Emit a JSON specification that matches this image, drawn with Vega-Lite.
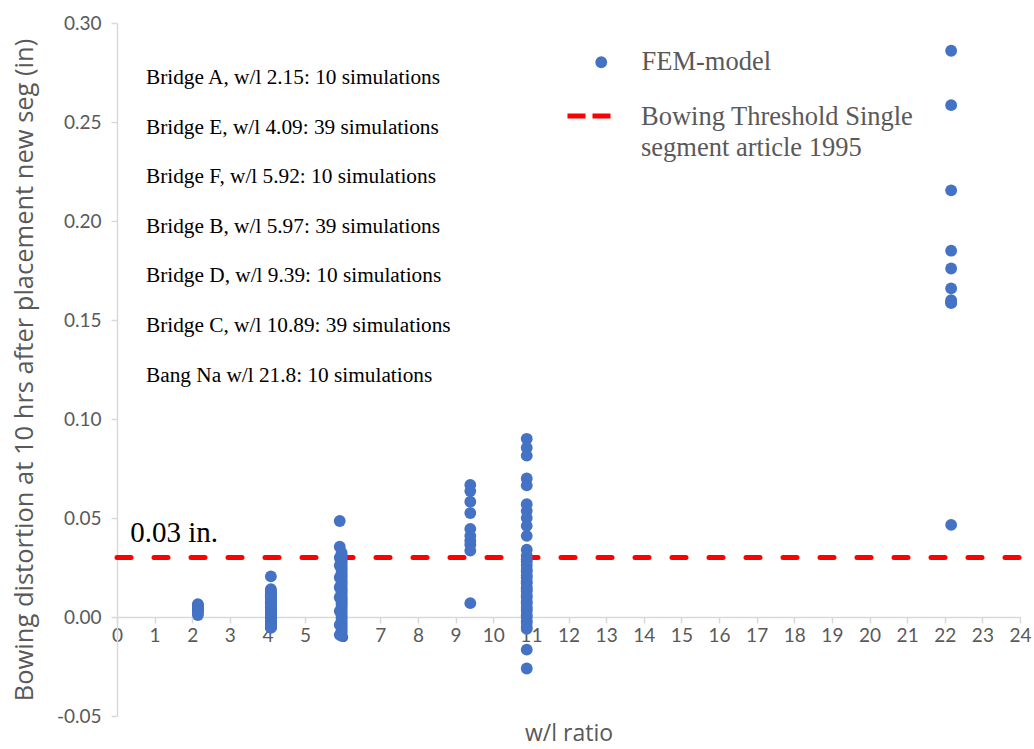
{
  "$schema": "https://vega.github.io/schema/vega-lite/v6.json",
  "width": 903,
  "height": 693,
  "autosize": {"type": "none"},
  "padding": {"left": 117, "top": 23, "right": 14, "bottom": 33},
  "background": "white",
  "config": {
    "view": {"stroke": null},
    "font": "Lato",
    "axis": {
      "grid": false, "labelOverlap": false, "labelBound": false, "labelFlush": false,
      "domainColor": "#D9D9D9", "domainWidth": 1.5, "tickColor": "#D9D9D9", "tickSize": 6, "tickWidth": 1.5,
      "labelFont": "Lato", "labelFontSize": 19, "labelColor": "#595959",
      "titleFont": "Open Sans", "titleColor": "#595959", "titleFontWeight": "normal"
    },
    "axisX": {"offset": -99, "labelPadding": 3, "titleFontSize": 23, "titlePadding": 77},
    "axisY": {"labelPadding": 10, "titleFontSize": 25.5, "titlePadding": 19}
  },
  "datasets": {
    "threshold": [{"series": "Bowing Threshold Single segment article 1995", "wl": 0, "wl2": 24, "d": 0.03}],
    "fem": [
      {"bridge": "A", "wl": 2.15, "d": 0.0065}, {"bridge": "A", "wl": 2.15, "d": 0.006}, {"bridge": "A", "wl": 2.15, "d": 0.0055}, {"bridge": "A", "wl": 2.15, "d": 0.005}, {"bridge": "A", "wl": 2.15, "d": 0.0045}, {"bridge": "A", "wl": 2.15, "d": 0.004}, {"bridge": "A", "wl": 2.15, "d": 0.0035}, {"bridge": "A", "wl": 2.15, "d": 0.003}, {"bridge": "A", "wl": 2.15, "d": 0.002}, {"bridge": "A", "wl": 2.15, "d": 0.001},
      {"bridge": "E", "wl": 4.09, "d": 0.0205}, {"bridge": "E", "wl": 4.09, "d": 0.014}, {"bridge": "E", "wl": 4.09, "d": 0.013}, {"bridge": "E", "wl": 4.09, "d": 0.0122}, {"bridge": "E", "wl": 4.09, "d": 0.0115}, {"bridge": "E", "wl": 4.09, "d": 0.0108}, {"bridge": "E", "wl": 4.09, "d": 0.01}, {"bridge": "E", "wl": 4.09, "d": 0.0094}, {"bridge": "E", "wl": 4.09, "d": 0.0088}, {"bridge": "E", "wl": 4.09, "d": 0.008},
      {"bridge": "E", "wl": 4.09, "d": 0.0073}, {"bridge": "E", "wl": 4.09, "d": 0.0066}, {"bridge": "E", "wl": 4.09, "d": 0.006}, {"bridge": "E", "wl": 4.09, "d": 0.0054}, {"bridge": "E", "wl": 4.09, "d": 0.0048}, {"bridge": "E", "wl": 4.09, "d": 0.0042}, {"bridge": "E", "wl": 4.09, "d": 0.0036}, {"bridge": "E", "wl": 4.09, "d": 0.003}, {"bridge": "E", "wl": 4.09, "d": 0.0025}, {"bridge": "E", "wl": 4.09, "d": 0.002},
      {"bridge": "E", "wl": 4.09, "d": 0.0015}, {"bridge": "E", "wl": 4.09, "d": 0.001}, {"bridge": "E", "wl": 4.09, "d": 0.0005}, {"bridge": "E", "wl": 4.09, "d": 0.0}, {"bridge": "E", "wl": 4.09, "d": -0.0005}, {"bridge": "E", "wl": 4.09, "d": -0.001}, {"bridge": "E", "wl": 4.09, "d": -0.0015}, {"bridge": "E", "wl": 4.09, "d": -0.002}, {"bridge": "E", "wl": 4.09, "d": -0.0025}, {"bridge": "E", "wl": 4.09, "d": -0.003},
      {"bridge": "E", "wl": 4.09, "d": -0.0035}, {"bridge": "E", "wl": 4.09, "d": -0.004}, {"bridge": "E", "wl": 4.09, "d": -0.0045}, {"bridge": "E", "wl": 4.09, "d": -0.0048}, {"bridge": "E", "wl": 4.09, "d": -0.005}, {"bridge": "E", "wl": 4.09, "d": -0.0052}, {"bridge": "E", "wl": 4.09, "d": -0.0055}, {"bridge": "E", "wl": 4.09, "d": 0.007}, {"bridge": "E", "wl": 4.09, "d": 0.011},
      {"bridge": "F", "wl": 5.92, "d": 0.0485}, {"bridge": "F", "wl": 5.92, "d": 0.0355}, {"bridge": "F", "wl": 5.92, "d": 0.03}, {"bridge": "F", "wl": 5.92, "d": 0.026}, {"bridge": "F", "wl": 5.92, "d": 0.02}, {"bridge": "F", "wl": 5.92, "d": 0.015}, {"bridge": "F", "wl": 5.92, "d": 0.01}, {"bridge": "F", "wl": 5.92, "d": 0.003}, {"bridge": "F", "wl": 5.92, "d": -0.004}, {"bridge": "F", "wl": 5.92, "d": -0.009},
      {"bridge": "B", "wl": 5.97, "d": 0.0325}, {"bridge": "B", "wl": 5.97, "d": 0.031}, {"bridge": "B", "wl": 5.97, "d": 0.0295}, {"bridge": "B", "wl": 5.97, "d": 0.0285}, {"bridge": "B", "wl": 5.97, "d": 0.0275}, {"bridge": "B", "wl": 5.97, "d": 0.0262}, {"bridge": "B", "wl": 5.97, "d": 0.025}, {"bridge": "B", "wl": 5.97, "d": 0.024}, {"bridge": "B", "wl": 5.97, "d": 0.0228}, {"bridge": "B", "wl": 5.97, "d": 0.0215},
      {"bridge": "B", "wl": 5.97, "d": 0.0205}, {"bridge": "B", "wl": 5.97, "d": 0.0192}, {"bridge": "B", "wl": 5.97, "d": 0.018}, {"bridge": "B", "wl": 5.97, "d": 0.017}, {"bridge": "B", "wl": 5.97, "d": 0.016}, {"bridge": "B", "wl": 5.97, "d": 0.0145}, {"bridge": "B", "wl": 5.97, "d": 0.0135}, {"bridge": "B", "wl": 5.97, "d": 0.0125}, {"bridge": "B", "wl": 5.97, "d": 0.0112}, {"bridge": "B", "wl": 5.97, "d": 0.01},
      {"bridge": "B", "wl": 5.97, "d": 0.009}, {"bridge": "B", "wl": 5.97, "d": 0.008}, {"bridge": "B", "wl": 5.97, "d": 0.007}, {"bridge": "B", "wl": 5.97, "d": 0.006}, {"bridge": "B", "wl": 5.97, "d": 0.005}, {"bridge": "B", "wl": 5.97, "d": 0.004}, {"bridge": "B", "wl": 5.97, "d": 0.003}, {"bridge": "B", "wl": 5.97, "d": 0.002}, {"bridge": "B", "wl": 5.97, "d": 0.001}, {"bridge": "B", "wl": 5.97, "d": 0.0},
      {"bridge": "B", "wl": 5.97, "d": -0.001}, {"bridge": "B", "wl": 5.97, "d": -0.002}, {"bridge": "B", "wl": 5.97, "d": -0.003}, {"bridge": "B", "wl": 5.97, "d": -0.004}, {"bridge": "B", "wl": 5.97, "d": -0.005}, {"bridge": "B", "wl": 5.97, "d": -0.006}, {"bridge": "B", "wl": 5.97, "d": -0.007}, {"bridge": "B", "wl": 5.97, "d": -0.008}, {"bridge": "B", "wl": 5.97, "d": -0.0095},
      {"bridge": "D", "wl": 9.39, "d": 0.0667}, {"bridge": "D", "wl": 9.39, "d": 0.0636}, {"bridge": "D", "wl": 9.39, "d": 0.0582}, {"bridge": "D", "wl": 9.39, "d": 0.0525}, {"bridge": "D", "wl": 9.39, "d": 0.0445}, {"bridge": "D", "wl": 9.39, "d": 0.041}, {"bridge": "D", "wl": 9.39, "d": 0.0385}, {"bridge": "D", "wl": 9.39, "d": 0.0365}, {"bridge": "D", "wl": 9.39, "d": 0.0335}, {"bridge": "D", "wl": 9.39, "d": 0.007},
      {"bridge": "C", "wl": 10.89, "d": 0.09}, {"bridge": "C", "wl": 10.89, "d": 0.0855}, {"bridge": "C", "wl": 10.89, "d": 0.0815}, {"bridge": "C", "wl": 10.89, "d": 0.07}, {"bridge": "C", "wl": 10.89, "d": 0.0665}, {"bridge": "C", "wl": 10.89, "d": 0.057}, {"bridge": "C", "wl": 10.89, "d": 0.0535}, {"bridge": "C", "wl": 10.89, "d": 0.05}, {"bridge": "C", "wl": 10.89, "d": 0.046}, {"bridge": "C", "wl": 10.89, "d": 0.041},
      {"bridge": "C", "wl": 10.89, "d": 0.034}, {"bridge": "C", "wl": 10.89, "d": 0.031}, {"bridge": "C", "wl": 10.89, "d": 0.029}, {"bridge": "C", "wl": 10.89, "d": 0.028}, {"bridge": "C", "wl": 10.89, "d": 0.026}, {"bridge": "C", "wl": 10.89, "d": 0.024}, {"bridge": "C", "wl": 10.89, "d": 0.023}, {"bridge": "C", "wl": 10.89, "d": 0.021}, {"bridge": "C", "wl": 10.89, "d": 0.02}, {"bridge": "C", "wl": 10.89, "d": 0.018},
      {"bridge": "C", "wl": 10.89, "d": 0.017}, {"bridge": "C", "wl": 10.89, "d": 0.015}, {"bridge": "C", "wl": 10.89, "d": 0.014}, {"bridge": "C", "wl": 10.89, "d": 0.013}, {"bridge": "C", "wl": 10.89, "d": 0.011}, {"bridge": "C", "wl": 10.89, "d": 0.01}, {"bridge": "C", "wl": 10.89, "d": 0.008}, {"bridge": "C", "wl": 10.89, "d": 0.007}, {"bridge": "C", "wl": 10.89, "d": 0.005}, {"bridge": "C", "wl": 10.89, "d": 0.004},
      {"bridge": "C", "wl": 10.89, "d": 0.003}, {"bridge": "C", "wl": 10.89, "d": 0.001}, {"bridge": "C", "wl": 10.89, "d": 0.0}, {"bridge": "C", "wl": 10.89, "d": -0.002}, {"bridge": "C", "wl": 10.89, "d": -0.003}, {"bridge": "C", "wl": 10.89, "d": -0.005}, {"bridge": "C", "wl": 10.89, "d": -0.006}, {"bridge": "C", "wl": 10.89, "d": -0.0165}, {"bridge": "C", "wl": 10.89, "d": -0.026},
      {"bridge": "Bang Na", "wl": 22.17, "d": 0.286}, {"bridge": "Bang Na", "wl": 22.17, "d": 0.2585}, {"bridge": "Bang Na", "wl": 22.17, "d": 0.2155}, {"bridge": "Bang Na", "wl": 22.17, "d": 0.185}, {"bridge": "Bang Na", "wl": 22.17, "d": 0.176}, {"bridge": "Bang Na", "wl": 22.17, "d": 0.166}, {"bridge": "Bang Na", "wl": 22.17, "d": 0.16}, {"bridge": "Bang Na", "wl": 22.17, "d": 0.159}, {"bridge": "Bang Na", "wl": 22.17, "d": 0.1585}, {"bridge": "Bang Na", "wl": 22.17, "d": 0.0465}
    ],
    "notes": [
      {"wl": 0.77, "d": 0.2722, "text": "Bridge A, w/l 2.15: 10 simulations"},
      {"wl": 0.77, "d": 0.2470, "text": "Bridge E, w/l 4.09: 39 simulations"},
      {"wl": 0.77, "d": 0.2222, "text": "Bridge F, w/l 5.92: 10 simulations"},
      {"wl": 0.77, "d": 0.1970, "text": "Bridge B, w/l 5.97: 39 simulations"},
      {"wl": 0.77, "d": 0.1722, "text": "Bridge D, w/l 9.39: 10 simulations"},
      {"wl": 0.77, "d": 0.1470, "text": "Bridge C, w/l 10.89: 39 simulations"},
      {"wl": 0.77, "d": 0.1217, "text": "Bang Na w/l 21.8: 10 simulations"}
    ],
    "thrlabel": [{"wl": 0.35, "d": 0.0424, "text": "0.03 in."}]
  },
  "resolve": {"scale": {"color": "independent"}},
  "encoding": {
    "x": {
      "field": "wl", "type": "quantitative",
      "scale": {"domain": [0, 24], "nice": false, "zero": false},
      "axis": {
        "title": "w/l ratio",
        "values": [0,1,2,3,4,5,6,7,8,9,10,11,12,13,14,15,16,17,18,19,20,21,22,23,24],
        "format": "d"
      }
    },
    "y": {
      "field": "d", "type": "quantitative",
      "scale": {"domain": [-0.05, 0.3], "nice": false, "zero": false},
      "axis": {
        "title": "Bowing distortion at 10 hrs after placement new seg (in)",
        "values": [-0.05, 0, 0.05, 0.1, 0.15, 0.2, 0.25, 0.3],
        "labelExpr": "replace(format(datum.value, '.2f'), '\u2212', '-')"
      }
    }
  },
  "layer": [
    {
      "data": {"name": "threshold"},
      "mark": {"type": "rule", "strokeWidth": 5, "strokeDash": [14, 23], "strokeCap": "round"},
      "encoding": {
        "x2": {"field": "wl2"},
        "color": {
          "field": "series", "type": "nominal",
          "scale": {"domain": ["Bowing Threshold Single segment article 1995"], "range": ["#FF0000"]},
          "legend": {
            "title": null, "orient": "none", "legendX": 448, "legendY": 69,
            "symbolType": "stroke", "symbolSize": 1849, "symbolStrokeWidth": 5, "symbolDash": [18, 7],
            "labelFont": "Liberation Serif", "labelFontSize": 26.5, "labelColor": "#595959", "labelOffset": 28, "labelLimit": 400,
            "labelExpr": "['Bowing Threshold Single', 'segment article 1995']",
            "encode": {"labels": {"update": {"lineHeight": {"value": 31}, "baseline": {"value": "alphabetic"}, "dy": {"value": 9}}}}
          }
        }
      }
    },
    {
      "data": {"name": "fem"},
      "mark": {"type": "point", "filled": true, "size": 140, "opacity": 1},
      "encoding": {
        "color": {
          "datum": "FEM-model", "type": "nominal",
          "scale": {"domain": ["FEM-model"], "range": ["#4472C4"]},
          "legend": {
            "title": null, "orient": "none", "legendX": 471, "legendY": 26,
            "symbolType": "circle", "symbolSize": 140,
            "labelFont": "Liberation Serif", "labelFontSize": 26.5, "labelColor": "#595959", "labelOffset": 27
          }
        }
      }
    },
    {
      "data": {"name": "notes"},
      "mark": {"type": "text", "font": "Liberation Serif", "fontSize": 21.3, "color": "black", "align": "left", "baseline": "middle"},
      "encoding": {"text": {"field": "text"}}
    },
    {
      "data": {"name": "thrlabel"},
      "mark": {"type": "text", "font": "Liberation Serif", "fontSize": 29, "color": "black", "align": "left", "baseline": "middle"},
      "encoding": {"text": {"field": "text"}}
    }
  ]
}
